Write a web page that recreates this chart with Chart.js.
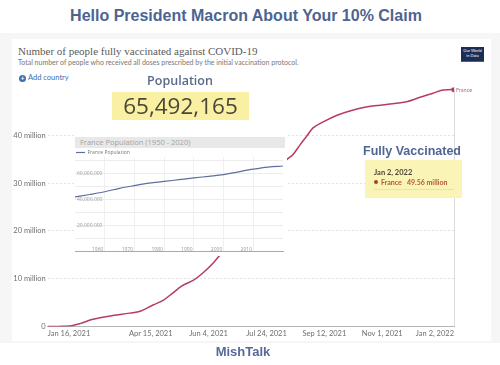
<!DOCTYPE html>
<html>
<head>
<meta charset="utf-8">
<script src="https://cdn.jsdelivr.net/npm/chart.js@4.4.0/dist/chart.umd.min.js"></script>
<style>
  html, body { margin: 0; padding: 0; background: #fff; }
  #wrap { position: relative; width: 500px; height: 365px; overflow: hidden; font-family: Lato, sans-serif; }
  .abs { position: absolute; white-space: nowrap; }
  .mid { transform: translate(-50%, -50%); }
  #title { left: 246px; top: 16px; font: bold 16px "Liberation Sans", Arial, sans-serif; color: #4d6491; }
  #frame { left: 0; top: 33px; width: 500px; height: 310px; background: #f6f6f6; }
  #card { left: 12px; top: 39px; width: 479px; height: 302px; background: #fff; }
  #owidTitle { left: 18px; top: 45px; font: 11px "Liberation Serif", serif; color: #5a5a5a; }
  #owidSub { left: 18px; top: 58px; font: 7px Lato, sans-serif; color: #777; }
  #logo { left: 461px; top: 47px; width: 23px; height: 13px; background: #1b2d55; border-bottom: 1px solid #c8302a;
          color: #fff; font: 4px/5px Lato, sans-serif; text-align: center; padding-top: 1px; box-sizing: content-box; }
  #addCountry { left: 19px; top: 73px; font: 7.5px Lato, sans-serif; color: #3b6fae; }
  #addCountry span { display: inline-block; width: 7px; height: 7px; border-radius: 50%; background: #3b6fae; color: #fff;
          font: bold 7px/7px Lato, sans-serif; text-align: center; margin-right: 2px; vertical-align: -1px; }
  #mainChart { left: 0; top: 0; }
  #popLabel { left: 180px; top: 80px; font: 600 12.5px "Open Sans", sans-serif; color: #5a6a8c; }
  #popBox { left: 112px; top: 92px; width: 137px; height: 28px; background: #f9f0a4; color: #4a4838;
          font: 22.5px/28px "Open Sans", sans-serif; text-align: center; }
  #insetWrap { left: 74px; top: 134px; width: 213px; height: 122px; background: #fff; }
  #insetTitle { position: absolute; left: 1px; top: 3px; width: 210px; height: 11px; background: #e8e8e8; color: #a3a3a3;
          font: 7.5px/11px "Open Sans", sans-serif; padding-left: 5px; box-sizing: border-box; }
  #fvLabel { left: 412px; top: 151px; font: bold 12.5px "Liberation Sans", Arial, sans-serif; color: #4f6592; }
  #tip { left: 365px; top: 160px; width: 97px; height: 38px; background: #faf4b6; }
  #tipDate { position: absolute; left: 9px; top: 8px; font: bold 7.5px Lato, sans-serif; color: #4b4433; }
  #tipRow { position: absolute; left: 9px; top: 18px; font: bold 7px Lato, sans-serif; color: #b0583a; }
  #tipRow i { display: inline-block; width: 4px; height: 4px; background: #a8402e; border-radius: 50%; margin-right: 3px; vertical-align: 1px; }
  #tipLine { position: absolute; left: 9px; top: 29px; width: 80px; border-top: 1px solid #ece3a0; }
  #franceTag { left: 456px; top: 87px; font: 5.5px Lato, sans-serif; color: #b86a78; }
  #mish { left: 243px; top: 351px; font: bold 13px "Liberation Sans", Arial, sans-serif; color: #56699a; }
</style>
</head>
<body>
<div id="wrap">
  <div class="abs" id="frame"></div>
  <div class="abs" id="card"></div>
  <div class="abs mid" id="title">Hello President Macron About Your 10% Claim</div>
  <div class="abs" id="owidTitle">Number of people fully vaccinated against COVID-19</div>
  <div class="abs" id="owidSub">Total number of people who received all doses prescribed by the initial vaccination protocol.</div>
  <div class="abs" id="logo">Our World<br>in Data</div>
  <div class="abs" id="addCountry"><span>+</span>Add country</div>
  <canvas class="abs" id="mainChart" width="500" height="365"></canvas>
  <div class="abs mid" id="popLabel">Population</div>
  <div class="abs" id="popBox">65,492,165</div>
  <div class="abs" id="insetWrap">
    <canvas id="insetChart" width="213" height="122"></canvas>
    <div id="insetTitle">France Population (1950 - 2020)</div>
  </div>
  <div class="abs mid" id="fvLabel">Fully Vaccinated</div>
  <div class="abs" id="tip">
    <div id="tipDate">Jan 2, 2022</div>
    <div id="tipRow"><i></i>France &nbsp;&nbsp;49.56 million</div>
    <div id="tipLine"></div>
  </div>
  <div class="abs" id="franceTag">France</div>
  <div class="abs mid" id="mish">MishTalk</div>
</div>

<script>
// fully vaccinated, France: days since Jan 16, 2021 -> millions of people
var vaxDays = [0, 10, 19, 28, 39, 54, 71, 80, 91, 100, 108, 116, 126, 134, 143, 149,
    160, 172, 185, 197, 206, 212, 218, 224, 229, 238, 250, 261, 275, 287, 298, 310, 321, 333, 342, 351];
var vaxMillions = [0, 0.02, 0.1, 0.6, 1.5, 2.2, 2.8, 3.2, 4.5, 5.5, 7.0, 8.5, 9.7, 11.2, 13.3, 15.0,
    18.5, 23.0, 28.0, 32.0, 34.8, 36.0, 38.0, 39.9, 41.5, 42.8, 44.2, 45.1, 45.9, 46.3, 46.6, 47.0, 47.9, 48.8, 49.5, 49.56];

var xTickDays = [0, 89, 139, 189, 239, 289, 351];
var xTickLabels = ["Jan 16, 2021", "Apr 15, 2021", "Jun 4, 2021", "Jul 24, 2021", "Sep 12, 2021", "Nov 1, 2021", "Jan 2, 2022"];
var yTickValues = [0, 10, 20, 30, 40];
var yTickLabels = ["0", "10 million", "20 million", "30 million", "40 million"];

// inset: France population (millions)
var popYears = [1950, 1955, 1960, 1965, 1970, 1975, 1980, 1985, 1990, 1995, 2000, 2005, 2010, 2015, 2020];
var popMillions = [42.0, 43.9, 46.0, 48.7, 50.8, 52.7, 54.0, 55.4, 56.8, 58.0, 59.3, 61.5, 63.6, 65.2, 66.0];
var popYearTicks = [1960, 1970, 1980, 1990, 2000, 2010];
var popValueTicks = [0, 10, 20, 30, 40, 50, 60, 70];

var lastIdx = vaxDays.length - 1;

new Chart(document.getElementById("mainChart"), {
    type: "line",
    data: {
        datasets: [{
            label: "France",
            data: vaxDays.map(function (d, i) { return { x: d, y: vaxMillions[i] }; }),
            borderColor: "#b63d5e",
            backgroundColor: "#b63d5e",
            borderWidth: 1.5,
            pointRadius: function (ctx) { return ctx.dataIndex === lastIdx ? 2 : 0; },
            cubicInterpolationMode: "monotone"
        }]
    },
    options: {
        responsive: false,
        animation: false,
        layout: { padding: { top: 87.5, right: 46, left: 0, bottom: 0 } },
        plugins: { legend: { display: false }, tooltip: { enabled: false } },
        scales: {
            x: {
                type: "linear", min: 0, max: 351,
                afterBuildTicks: function (s) { s.ticks = xTickDays.map(function (v) { return { value: v }; }); },
                afterFit: function (s) { s.height = 38.5; },
                ticks: {
                    callback: function (v) { return xTickLabels[xTickDays.indexOf(v)]; },
                    align: "inner", maxRotation: 0, autoSkip: false, padding: 3,
                    color: "#6e6e6e", font: { family: "Lato", size: 7.5 }
                },
                grid: {
                    drawTicks: false,
                    color: function (ctx) { return ctx.tick && ctx.tick.value === 351 ? "#dcdcdc" : "rgba(0,0,0,0)"; }
                },
                border: { color: "#b5b5b5" }
            },
            y: {
                min: 0, max: 50,
                afterBuildTicks: function (s) { s.ticks = yTickValues.map(function (v) { return { value: v }; }); },
                afterFit: function (s) { s.width = 47.7; },
                ticks: {
                    callback: function (v) { return yTickLabels[yTickValues.indexOf(v)]; },
                    padding: 2, color: "#6e6e6e", font: { family: "Lato", size: 7.5 }
                },
                grid: { drawTicks: false, color: "#e2e2e2" },
                border: { display: false, dash: [2, 2] }
            }
        }
    }
});

new Chart(document.getElementById("insetChart"), {
    type: "line",
    data: {
        datasets: [{
            label: "France Population",
            data: popYears.map(function (y, i) { return { x: y, y: popMillions[i] }; }),
            borderColor: "#5e6f9f",
            backgroundColor: "#5e6f9f",
            borderWidth: 1.2,
            pointRadius: 0,
            cubicInterpolationMode: "monotone"
        }]
    },
    options: {
        responsive: false,
        animation: false,
        layout: { padding: { left: 1, right: 4, top: 15, bottom: 0 } },
        plugins: {
            legend: {
                position: "top", align: "start", maxHeight: 8,
                labels: {
                    usePointStyle: true, pointStyle: "line", pointStyleWidth: 9, boxHeight: 4,
                    padding: 1, color: "#777", font: { family: "Open Sans", size: 5 }
                }
            },
            tooltip: { enabled: false }
        },
        scales: {
            x: {
                type: "linear", min: 1950, max: 2020,
                afterBuildTicks: function (s) { s.ticks = popYearTicks.map(function (v) { return { value: v }; }); },
                afterFit: function (s) { s.height = 3.5; },
                ticks: {
                    callback: function (v) { return String(v); },
                    mirror: true, padding: -2, labelOffset: -7, maxRotation: 0, autoSkip: false,
                    color: "#9a9a9a", font: { family: "Open Sans", size: 5 }
                },
                grid: { drawTicks: false, color: "#f0f0f0" },
                border: { color: "#aaaaaa" }
            },
            y: {
                min: 0, max: 73,
                afterBuildTicks: function (s) { s.ticks = popValueTicks.map(function (v) { return { value: v }; }); },
                afterFit: function (s) { s.width = 0; },
                ticks: {
                    mirror: true, padding: 2,
                    callback: function (v) { return (v === 20 || v === 40 || v === 60) ? (v * 1000000).toLocaleString("en-US") : ""; },
                    color: "#9a9a9a", font: { family: "Open Sans", size: 5 }
                },
                grid: {
                    drawTicks: false,
                    color: function (ctx) { return ctx.tick && ctx.tick.value === 0 ? "rgba(0,0,0,0)" : "#ececec"; }
                },
                border: { display: false }
            }
        }
    }
});
</script>
</body>
</html>
